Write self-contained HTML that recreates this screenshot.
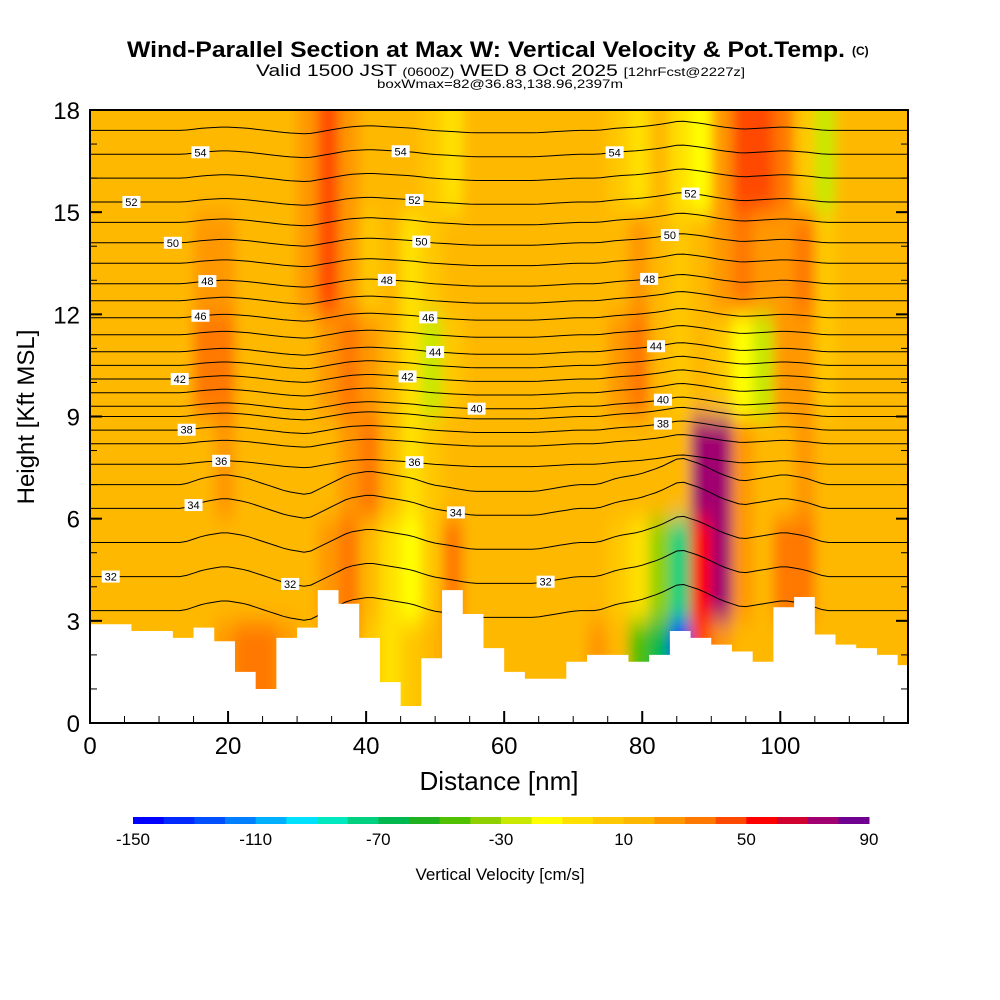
<!DOCTYPE html>
<html><head><meta charset="utf-8"><style>
body{margin:0;background:#fff;}
svg{display:block;font-family:"Liberation Sans",sans-serif;}
</style></head><body>
<svg id="chart" width="1000" height="1000" viewBox="0 0 1000 1000">
<defs>
<clipPath id="plotclip"><rect x="90" y="110" width="818" height="613"/></clipPath>
<filter id="blur" x="-5%" y="-5%" width="110%" height="110%"><feGaussianBlur stdDeviation="6 12"/></filter>
</defs>
<text x="127" y="57" font-size="22" font-weight="bold" textLength="718" lengthAdjust="spacingAndGlyphs">Wind-Parallel Section at Max W: Vertical Velocity &amp; Pot.Temp.</text>
<text x="852" y="55" font-size="12" font-weight="bold">(C)</text>
<text x="256" y="76" font-size="17" textLength="489" lengthAdjust="spacingAndGlyphs">Valid 1500 JST <tspan font-size="12">(0600Z)</tspan> WED 8 Oct 2025 <tspan font-size="12">[12hrFcst@2227z]</tspan></text>
<text x="377" y="88" font-size="12" textLength="246" lengthAdjust="spacingAndGlyphs">boxWmax=82@36.83,138.96,2397m</text>
<g clip-path="url(#plotclip)">
<rect x="90" y="110" width="818" height="613" fill="#ffb800"/>
<g id="heat" filter="url(#blur)"></g>
<g id="contours"></g>
<path id="terrain" fill="#fff" stroke="none"/>
<g id="clabels"></g>
</g>
<rect x="90" y="110" width="818" height="613" fill="none" stroke="#000" stroke-width="2"/>
<g id="axes"></g>
<text x="499" y="790" font-size="26" text-anchor="middle">Distance [nm]</text>
<text transform="translate(34,417) rotate(-90)" font-size="24" text-anchor="middle">Height [Kft MSL]</text>
<g id="cbar"></g>
<text x="500" y="880" font-size="17" text-anchor="middle">Vertical Velocity [cm/s]</text>
</svg>
<script>
// ---- data ----
const bandBottoms = [0,3,6,9,12,15]; // kft
const colStep = 3; // nm per column
const wBand0 = [12,12,12,12,12,12,20,35,30,25,12,20,35,5,-10,5,12,20,15,15,15,15,15,15,20,12,-50,-70,-140,40,20,12,12,12,12,12,12,12,12,12];
const wBand1 = [12,12,12,12,12,12,12,12,12,15,18,25,35,12,-5,-15,5,35,15,12,12,12,12,12,12,5,-10,-35,-80,55,75,25,15,30,30,12,12,12,12,12];
const wBand2 = [12,12,12,12,12,12,22,18,12,12,12,12,25,30,12,-10,0,18,12,12,12,12,12,12,12,12,15,12,15,75,75,20,12,15,20,12,12,12,12,12];
const wBand3 = [12,12,12,12,12,35,30,18,12,12,12,20,35,25,12,-5,-25,0,12,12,12,12,12,12,12,20,35,15,5,15,5,-15,-30,25,25,5,12,12,12,12];
const wBand4 = [12,12,12,12,12,25,22,12,12,12,20,45,25,5,12,-5,0,12,12,12,12,12,12,12,12,18,25,12,0,10,25,30,25,20,35,0,12,12,12,12];
const wBand5 = [12,12,12,12,12,15,18,12,12,12,20,40,25,12,12,12,0,-5,12,12,12,12,12,12,12,5,-10,12,-5,-15,25,45,45,30,0,-25,12,12,12,12];
const terrain = [2.9,2.9,2.7,2.7,2.5,2.8,2.4,1.5,1.0,2.5,2.8,3.9,3.5,2.5,1.2,0.5,1.9,3.9,3.2,2.2,1.5,1.3,1.3,1.8,2.0,2.0,1.8,2.0,2.7,2.5,2.3,2.1,1.8,3.4,3.7,2.6,2.3,2.2,2.0,1.7];
const thetaLevels = [31,32,33,34,35,36,37,38,39,40,41,42,43,44,45,46,47,48,49,50,51,52,53,54,55];
const thetaBase = [3.3,4.3,5.3,6.3,7.0,7.6,8.2,8.6,9.0,9.3,9.7,10.1,10.5,10.9,11.4,11.9,12.4,12.9,13.5,14.1,14.7,15.3,16.0,16.7,17.4];
const thetaDisp = [0,0,0,0,0,0.2,0.3,0.2,0,-0.2,-0.3,0,0.3,0.4,0.3,0.2,0,-0.1,-0.2,-0.2,-0.2,-0.2,-0.1,0,0,0.2,0.3,0.5,0.8,0.6,0.3,0.1,0.2,0.3,0.2,0,0,0,0,0];
const labelThetas = [54,54,54,52,52,52,50,50,50,48,48,48,46,46,44,44,42,42,40,40,38,38,36,36,34,34,32,32,32];
const labelXs = [16,45,76,6,47,87,12,48,84,17,43,81,16,49,50,82,13,46,56,83,14,83,19,47,15,53,3,29,66];
const cbarTicks = [-150,-110,-70,-30,10,50,90];
const colors = ["#0000ff","#0028ff","#0050ff","#0080ff","#00b0ff","#00e0ff","#00e8c0","#00d080","#00b850","#20b020","#50c000","#90d000","#c8e800","#ffff00","#ffe000","#ffc800","#ffb800","#ff9800","#ff7800","#ff4800","#ff0000","#d00030","#a00070","#700090"];
// ---- scales ----
const X0=90,X1=908,Y0=723,Y1=110,XMAX=118.5,YMAX=18;
const sx = v => X0 + v*(X1-X0)/XMAX;
const sy = v => Y0 - v*(Y0-Y1)/YMAX;
const colorFor = v => colors[Math.max(0,Math.min(colors.length-1,Math.floor((v+150)/10)))];
const NS='http://www.w3.org/2000/svg';
function mk(tag, attrs, parent){const e=document.createElementNS(NS,tag);for(const k in attrs)e.setAttribute(k,attrs[k]);parent.appendChild(e);return e;}
// heatmap
const heat=document.getElementById('heat');
const bands=[wBand0,wBand1,wBand2,wBand3,wBand4,wBand5];
bands.forEach((band,b)=>{band.forEach((v,i)=>{
  const x=sx(i*colStep), w=sx((i+1)*colStep)-x+1;
  const yb=bandBottoms[b]; const top=(b==bands.length-1)?YMAX+2:yb+3; const bot=(b==0)?-1:yb;
  const r=mk('rect',{x:x-(i==0?20:0),y:sy(top),width:w+(i==0?20:0)+(i==band.length-1?20:0),height:sy(bot)-sy(top),fill:colorFor(v)},heat);
  
  
});});
// terrain
let d=`M${X0} ${Y0+5}`;
terrain.forEach((h,i)=>{d+=` L${sx(i*colStep)} ${sy(h)} L${sx((i+1)*colStep)} ${sy(h)}`;});
d+=` L${X1+5} ${sy(terrain[terrain.length-1])} L${X1+5} ${Y0+5} Z`;
document.getElementById('terrain').setAttribute('d',d);
// contours
const cg=document.getElementById('contours');
function thetaHeight(k,x){const fi=x/colStep-0.5;const i=Math.max(0,Math.min(thetaDisp.length-1,Math.floor(fi)));const j=Math.min(thetaDisp.length-1,i+1);const t=Math.max(0,Math.min(1,fi-i));const sc=k<5?1:0.35;return thetaBase[k]+sc*(thetaDisp[i]*(1-t)+thetaDisp[j]*t);}
thetaLevels.forEach((th,k)=>{
  let p='';for(let x=0;x<=XMAX+1;x+=1){p+=(x?' L':'M')+sx(x).toFixed(1)+' '+sy(thetaHeight(k,x)).toFixed(1);}
  const e=mk('path',{d:p,fill:'none',stroke:'#000','stroke-width':1},cg);
  
  
});
const lg=document.getElementById('clabels');
labelThetas.forEach((th,i)=>{
  const k=thetaLevels.indexOf(th);const x=sx(labelXs[i]),y=sy(thetaHeight(k,labelXs[i]));
  const r=mk('rect',{x:x-9,y:y-6,width:18,height:12,fill:'#fff'},lg);
  
  
  const t=mk('text',{x:x,y:y+4,'font-size':11,'text-anchor':'middle'},lg);t.textContent=th;
  
  
});
// axes
const ax=document.getElementById('axes');
for(let v=0;v<=115;v+=5){const x=sx(v);const L=v%20==0?12:7;
  mk('line',{x1:x,y1:Y0,x2:x,y2:Y0-L,stroke:'#000','stroke-width':v%20==0?2:1},ax);
  if(v%20==0){const t=mk('text',{x:x,y:754,'font-size':24,'text-anchor':'middle'},ax);t.textContent=v;
    
    }}
for(let v=0;v<=18;v+=1){const y=sy(v);const L=v%3==0?12:7;
  mk('line',{x1:X0,y1:y,x2:X0+L,y2:y,stroke:'#000','stroke-width':v%3==0?2:1},ax);
  mk('line',{x1:X1,y1:y,x2:X1-L,y2:y,stroke:'#000','stroke-width':v%3==0?2:1},ax);
  if(v%3==0){const t=mk('text',{x:80,y:y+9,'font-size':24,'text-anchor':'end'},ax);t.textContent=v;
    
    }}
// colorbar
const cb=document.getElementById('cbar');const CX0=133,CX1=869,cw=(CX1-CX0)/colors.length;
colors.forEach((c,i)=>{const r=mk('rect',{x:CX0+i*cw,y:817,width:cw+0.5,height:7,fill:c},cb);
  
  });
cbarTicks.forEach(v=>{const x=CX0+(v+150)/10*cw;const t=mk('text',{x:x,y:845,'font-size':17,'text-anchor':'middle'},cb);t.textContent=v;
  
  });
</script>
</body></html>
